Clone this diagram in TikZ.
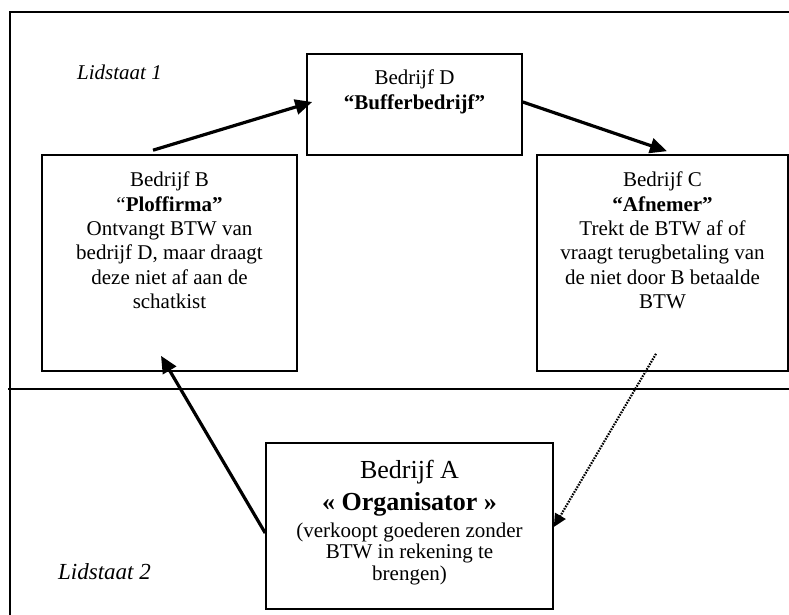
\documentclass[tikz,border=0pt]{standalone}
\usepackage{fontspec}
\setmainfont{Liberation Serif}
\usetikzlibrary{arrows.meta}
\begin{document}
\begin{tikzpicture}[x=1pt,y=-1pt,
  box/.style={draw,line width=1.6pt,inner sep=0pt,rectangle},
  txt/.style={inner sep=0pt,align=center,anchor=north,font=\fontsize{21}{24.4}\selectfont},
  bigtxt/.style={inner sep=0pt,align=center,anchor=north,font=\fontsize{26}{32}\selectfont},
  small/.style={inner sep=0pt,align=center,anchor=north,font=\fontsize{21}{21.5}\selectfont},
  statelabel/.style={inner sep=0pt,anchor=west,font=\itshape\fontsize{21}{24}\selectfont},
  arr/.style={line width=3.2pt,-{Triangle[length=17pt,width=15pt]}},
  dotarr/.style={line width=2.2pt,dash pattern=on 1.6pt off 1.2pt,-{Triangle[length=13pt,width=12pt]}}]
\useasboundingbox (0,0) rectangle (789,615);
% frame and divider
\draw[line width=1.6pt] (10,615) -- (10,12) -- (789,12);
\draw[line width=1.4pt] (8,389) -- (789,389);
% boxes
\node[box,minimum width=215pt,minimum height=101pt] (D) at (414.5,104.5) {};
\node[box,minimum width=255pt,minimum height=216pt] (B) at (169.5,263) {};
\node[box,minimum width=251pt,minimum height=216pt] (C) at (662.5,263) {};
\node[box,minimum width=287pt,minimum height=166pt] (A) at (409.5,526) {};
% texts
\node[txt] (Dt) at (414.5,69.7) {Bedrijf D\\\textbf{“Bufferbedrijf”}};
\node[txt] (Bt) at (169.5,171.7) {Bedrijf B\\“\textbf{Ploffirma”}\\Ontvangt BTW van\\bedrijf D, maar draagt\\deze niet af aan de\\schatkist};
\node[txt] (Ct) at (662.5,171.7) {Bedrijf C\\\textbf{“Afnemer”}\\Trekt de BTW af of\\vraagt terugbetaling van\\de niet door B betaalde\\BTW};
\node[bigtxt] (At) at (409.5,460) {Bedrijf A\\\textbf{« Organisator »}};
\node[small] (Ad) at (409.5,522.7) {(verkoopt goederen zonder\\BTW in rekening te\\brengen)};
\node[statelabel] (L1) at (77,72) {Lidstaat 1};
\node[statelabel,font=\itshape\fontsize{23}{26}\selectfont] (L2) at (58,572) {Lidstaat 2};
% connectors
\draw[arr] ([xshift=-16.5pt,yshift=4pt]B.north) -- ([xshift=6pt,yshift=2.5pt]D.west);
\draw[arr] ([yshift=2.5pt]D.east) -- ([xshift=4.5pt,yshift=3pt]C.north);
\draw[arr] ([yshift=-7pt]A.west) -- ([xshift=-8.5pt,yshift=16pt]B.south);
\draw[dotarr] ([xshift=-6.5pt,yshift=18pt]C.south) -- ([yshift=-1pt]A.east);
\end{tikzpicture}
\end{document}
